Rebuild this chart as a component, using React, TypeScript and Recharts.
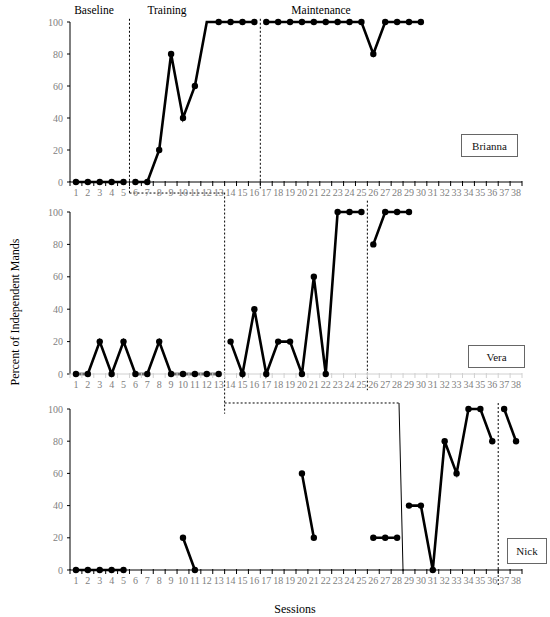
import React from 'react';
import { LineChart, Line, XAxis, YAxis, ReferenceLine } from 'recharts';

const sessions = [
  1, 2, 3, 4, 5, 6, 7, 8, 9, 10, 11, 12, 13, 14, 15, 16, 17, 18, 19, 20,
  21, 22, 23, 24, 25, 26, 27, 28, 29, 30, 31, 32, 33, 34, 35, 36, 37, 38,
];
const percentTicks = [0, 20, 40, 60, 80, 100];

// Brianna
const briannaStarts = [1, 6, 17];
const briannaBaseline = [0, 0, 0, 0, 0];
const briannaTraining = [0, 0, 20, 80, 40, 60, 100, 100, 100, 100, 100];
const briannaMaintenance = [100, 100, 100, 100, 100, 100, 100, 100, 100, 80, 100, 100, 100, 100];
const briannaNoDot = [12];

// Vera
const veraStarts = [1, 14, 26];
const veraBaseline = [0, 0, 20, 0, 20, 0, 0, 20, 0, 0, 0, 0, 0];
const veraTraining = [20, 0, 40, 0, 20, 20, 0, 60, 0, 100, 100, 100];
const veraMaintenance = [80, 100, 100, 100];

// Nick
const nickStarts = [1, 29, 37];
const nickBaseline = [
  0, 0, 0, 0, 0, null, null, null, null, 20, 0, null, null, null, null, null, null, null, null,
  60, 20, null, null, null, null, 20, 20, 20,
];
const nickTraining = [40, 40, 0, 80, 60, 100, 100, 80];
const nickMaintenance = [100, 80];

const phaseKeys = ['baseline', 'training', 'maintenance'];

const buildRows = (starts: number[], series: (number | null)[][]) =>
  sessions.map((s) => {
    const row: any = { session: s };
    series.forEach((values, p) => {
      const i = s - starts[p];
      row[phaseKeys[p]] = i >= 0 && i < values.length ? values[i] : null;
    });
    return row;
  });

const briannaRows = buildRows(briannaStarts, [briannaBaseline, briannaTraining, briannaMaintenance]);
const veraRows = buildRows(veraStarts, [veraBaseline, veraTraining, veraMaintenance]);
const nickRows = buildRows(nickStarts, [nickBaseline, nickTraining, nickMaintenance]);

// labels at whole sessions, tick marks between them
const axisTicks = sessions.flatMap((s) => [s - 0.5, s]).concat([38.5]);

const SessionTick = ({ x, y, payload, color }: any) => {
  const v = payload.value;
  if (v % 1 !== 0) {
    return <line x1={x} x2={x} y1={y - 1} y2={y + 4} stroke={color} strokeWidth={1} />;
  }
  return (
    <text x={x} y={y + 7} dy="0.71em" textAnchor="middle" fill="#808080" fontSize={10}>
      {v}
    </text>
  );
};

const dash = { stroke: '#000', strokeWidth: 1, strokeDasharray: '2 2', ifOverflow: 'visible' as const };

interface PanelProps {
  rows: any[];
  top: number;
  height: number;
  axisColor: string;
  noDot?: number[];
  children?: React.ReactNode;
}

const Panel: React.FC<PanelProps> = ({ rows, top, height, axisColor, noDot = [], children }) => (
  <div style={{ position: 'absolute', left: 0, top }}>
    <LineChart width={550} height={height} data={rows} margin={{ top: 22, right: 28, bottom: 0, left: 0 }}>
      <XAxis
        dataKey="session"
        type="number"
        domain={[0.5, 38.5]}
        ticks={axisTicks}
        interval={0}
        allowDataOverflow
        height={18}
        stroke={axisColor}
        tickLine={false}
        tickSize={0}
        tickMargin={0}
        tick={(p: any) => <SessionTick {...p} color={axisColor} />}
      />
      <YAxis
        domain={[0, 100]}
        ticks={percentTicks}
        interval={0}
        width={70}
        stroke="#000"
        tickSize={3}
        tickMargin={4}
        tick={{ fill: '#808080', fontSize: 10 }}
      />
      {children}
      {phaseKeys.map((k) => (
        <Line
          key={k}
          dataKey={k}
          stroke="#000"
          strokeWidth={2.6}
          connectNulls={false}
          isAnimationActive={false}
          dot={(p: any) =>
            p.value == null || (k === 'training' && noDot.includes(p.payload.session)) ? (
              <g key={`${k}-${p.index}`} />
            ) : (
              <circle key={`${k}-${p.index}`} cx={p.cx} cy={p.cy} r={3.2} fill="#000" />
            )
          }
        />
      ))}
    </LineChart>
  </div>
);

const boxStyle: React.CSSProperties = {
  position: 'absolute',
  border: '1px solid #666',
  display: 'flex',
  alignItems: 'center',
  justifyContent: 'center',
  fontSize: 11,
  color: '#111',
  boxSizing: 'border-box',
  background: '#fff',
};

const phaseLabel = (text: string, x: number): React.ReactNode => (
  <div style={{ position: 'absolute', left: x, top: 10, transform: 'translate(-50%, -50%)', fontSize: 11.5, whiteSpace: 'nowrap' }}>
    {text}
  </div>
);

export default function App() {
  return (
    <div
      style={{
        position: 'absolute',
        left: 0,
        top: 0,
        width: 550,
        height: 617,
        background: '#fff',
        fontFamily: '"Liberation Serif", "Times New Roman", serif',
        overflow: 'hidden',
      }}
    >
      <style>{'.recharts-surface { overflow: visible; } .recharts-wrapper { overflow: visible; }'}</style>

      <Panel rows={briannaRows} top={0} height={200} axisColor="#000" noDot={briannaNoDot}>
        <ReferenceLine segment={[{ x: 5.5, y: 102 }, { x: 5.5, y: -6.9 }]} {...dash} />
        <ReferenceLine segment={[{ x: 5.5, y: -6.9 }, { x: 13.5, y: -6.9 }]} {...dash} />
        <ReferenceLine segment={[{ x: 16.5, y: 102 }, { x: 16.5, y: -4 }]} {...dash} />
      </Panel>

      <Panel rows={veraRows} top={190} height={202} axisColor="#d0d0d0">
        <ReferenceLine segment={[{ x: 13.5, y: 112 }, { x: 13.5, y: -24.5 }]} {...dash} />
        <ReferenceLine segment={[{ x: 13.5, y: -17.9 }, { x: 28.16, y: -17.9 }]} {...dash} />
        <ReferenceLine segment={[{ x: 25.5, y: 107 }, { x: 25.5, y: -10 }]} {...dash} />
      </Panel>

      <Panel rows={nickRows} top={387} height={201} axisColor="#000">
        <ReferenceLine segment={[{ x: 28.16, y: 103.7 }, { x: 28.5, y: -0.8 }]} stroke="#000" strokeWidth={1} ifOverflow="visible" />
        <ReferenceLine segment={[{ x: 36.5, y: 103.7 }, { x: 36.5, y: -10 }]} {...dash} />
      </Panel>

      {phaseLabel('Baseline', 94)}
      {phaseLabel('Training', 167)}
      {phaseLabel('Maintenance', 321)}

      <div style={{ ...boxStyle, left: 461, top: 134, width: 57, height: 23 }}>Brianna</div>
      <div style={{ ...boxStyle, left: 468, top: 345, width: 57, height: 23 }}>Vera</div>
      <div style={{ ...boxStyle, left: 507, top: 538, width: 40, height: 26 }}>Nick</div>

      <div
        style={{
          position: 'absolute',
          left: 15,
          top: 312,
          transform: 'translate(-50%, -50%) rotate(-90deg)',
          fontSize: 12,
          whiteSpace: 'nowrap',
        }}
      >
        Percent of Independent Mands
      </div>
      <div style={{ position: 'absolute', left: 295, top: 609, transform: 'translate(-50%, -50%)', fontSize: 12 }}>
        Sessions
      </div>
    </div>
  );
}
